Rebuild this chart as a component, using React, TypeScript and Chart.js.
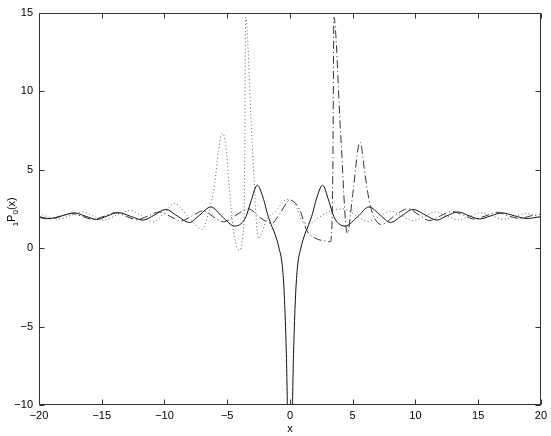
import React, { useEffect, useRef } from "react";
import { Chart, registerables } from "chart.js";

Chart.register(...registerables);

const xTicks = [-20, -15, -10, -5, 0, 5, 10, 15, 20];
const yTicks = [-10, -5, 0, 5, 10, 15];

const solidX = [
  -20, -19.2, -18.2, -17.2, -16.3, -15.4, -14.6, -13.7, -12.7, -11.7, -10.8, -9.9, -9.0, -8.0, -7.2, -6.3,
  -5.4, -4.4, -3.9, -3.5, -3.1, -2.6, -2.1, -1.8, -1.5, -1.2, -0.87, -0.6, -0.45, -0.32, -0.25, -0.2, -0.15,
  0,
  0.15, 0.2, 0.25, 0.32, 0.45, 0.6, 0.87, 1.2, 1.5, 1.8, 2.1, 2.6, 3.1, 3.5, 3.9, 4.4, 5.4,
  6.3, 7.2, 8.0, 8.9, 9.8, 10.8, 11.7, 12.5, 13.4, 14.3, 15.1, 16.0, 16.9, 17.9, 18.9, 20,
];
const solidY = [
  2.0, 1.88, 2.05, 2.24, 2.03, 1.82, 2.03, 2.26, 2.02, 1.78, 2.1, 2.46, 2.05, 1.63, 2.1, 2.62,
  2.0, 1.4, 1.55, 2.0, 3.0, 4.0, 3.1, 2.2, 1.5, 0.9, 0.0, -1.2, -3.0, -5.8, -8.0, -10.5, -14,
  null,
  -14, -10.5, -8.0, -5.8, -3.0, -1.2, 0.0, 0.9, 1.5, 2.2, 3.1, 4.0, 3.0, 2.0, 1.55, 1.4, 2.0,
  2.62, 2.1, 1.63, 2.05, 2.46, 2.1, 1.78, 2.05, 2.3, 2.05, 1.85, 2.05, 2.24, 2.05, 1.88, 2.0,
];

const dottedX = [
  -20, -19.5, -18.5, -17.5, -16.5, -15.7, -14.9, -13.8, -12.7, -11.8, -10.9, -10.0, -9.2, -8.1, -7.0,
  -6.5, -6.0, -5.7, -5.4, -5.1, -4.85, -4.6, -4.35, -4.04, -3.75, -3.62, -3.53, -3.05, -2.5,
  -1.86, -1.06, -0.55, -0.25, 0.4, 0.93, 1.55, 2.4, 3.4, 4.3, 5.3, 6.2, 7.1, 8.0, 8.9, 9.8,
  10.7, 11.6, 12.5, 13.4, 14.3, 15.2, 16.1, 17.0, 17.9, 18.8, 20,
];
const dottedY = [
  2.2, 2.05, 1.85, 2.07, 2.3, 2.05, 1.78, 2.1, 2.4, 2.05, 1.67, 2.25, 2.84, 2.0, 1.2,
  2.2, 4.1, 6.2, 7.3, 6.5, 4.0, 1.8, 0.4, -0.13, 0.8, 4.0, 14.7, 7.3, 0.6,
  1.78, 2.41, 2.94, 3.1, 2.84, 1.78, 1.55, 2.0, 2.4, 2.5, 2.05, 1.7, 2.0, 2.35, 2.05, 1.75,
  2.0, 2.3, 2.05, 1.8, 2.0, 2.25, 2.05, 1.83, 2.0, 2.2, 1.95,
];

const dashDotX = [
  -20, -19.2, -18.3, -17.4, -16.5, -15.7, -14.8, -13.9, -13.0, -12.2, -11.3, -10.4, -9.5, -8.7, -7.8,
  -6.9, -6.1, -5.3, -4.4, -3.3, -2.4, -1.46, -0.8, 0, 0.8, 1.33, 2.1, 2.8, 3.2, 3.35, 3.43, 3.5,
  4.04, 4.57, 5.0, 5.58, 6.0, 6.4, 7.3, 8.4, 9.4, 10.3, 11.1, 12.0, 12.9, 13.8, 14.7, 15.6, 16.5,
  17.4, 18.3, 19.2, 20,
];
const dashDotY = [
  1.95, 1.85, 2.0, 2.2, 2.0, 1.82, 2.03, 2.25, 2.0, 1.8, 2.05, 2.3, 2.0, 1.72, 2.05,
  2.37, 1.99, 1.67, 2.05, 2.5, 1.95, 1.57, 2.2, 3.05, 2.4, 1.14, 0.6, 0.45, 0.4, 1.5, 6.0, 14.7,
  7.3, 0.93, 3.4, 6.75, 4.6, 2.7, 1.5, 2.1, 2.5, 2.1, 1.75, 2.05, 2.33, 2.1, 1.85, 2.05, 2.28,
  2.05, 1.88, 2.05, 2.15,
];

const toPoints = (xs: number[], ys: (number | null)[]) => xs.map((x, i) => ({ x, y: ys[i] }));

const FONT = "'Liberation Sans', Arial, Helvetica, sans-serif";
const fmt = (v: number) => (v < 0 ? "\u2212" + Math.abs(v) : String(v));

const framePlugin = {
  id: "frame",
  afterDraw(chart: any) {
    const { ctx, chartArea: a, scales } = chart;
    const xs = scales.x;
    const ys = scales.y;
    ctx.save();
    ctx.strokeStyle = "#333";
    ctx.lineWidth = 1;
    const L = Math.round(a.left) + 0.5;
    const R = Math.round(a.right) - 0.5;
    const T = Math.round(a.top) + 0.5;
    const B = Math.round(a.bottom) - 0.5;
    ctx.strokeRect(L, T, R - L, B - T);
    ctx.beginPath();
    for (const v of xTicks) {
      const p = Math.round(xs.getPixelForValue(v)) + 0.5;
      ctx.moveTo(p, B);
      ctx.lineTo(p, B - 5);
      ctx.moveTo(p, T);
      ctx.lineTo(p, T + 5);
    }
    for (const v of yTicks) {
      const p = Math.round(ys.getPixelForValue(v)) + 0.5;
      ctx.moveTo(L, p);
      ctx.lineTo(L + 5, p);
      ctx.moveTo(R, p);
      ctx.lineTo(R - 5, p);
    }
    ctx.stroke();

    // x label
    ctx.fillStyle = "#000";
    ctx.font = `11px ${FONT}`;
    ctx.textAlign = "center";
    ctx.textBaseline = "middle";
    ctx.fillText("x", (a.left + a.right) / 2, 429);

    // y label: 1P0(x) with subscripts
    const cy = (a.top + a.bottom) / 2 + 3;
    ctx.translate(15, cy);
    ctx.rotate(-Math.PI / 2);
    ctx.textAlign = "left";
    ctx.textBaseline = "alphabetic";
    const parts = [
      { t: "1", s: 8, dy: 3 },
      { t: "P", s: 11, dy: 0 },
      { t: "0", s: 8, dy: 3 },
      { t: "(x)", s: 11, dy: 0 },
    ];
    let w = 0;
    for (const p of parts) {
      ctx.font = `${p.s}px ${FONT}`;
      w += ctx.measureText(p.t).width;
    }
    let x = -w / 2;
    for (const p of parts) {
      ctx.font = `${p.s}px ${FONT}`;
      ctx.fillText(p.t, x, p.dy);
      x += ctx.measureText(p.t).width;
    }
    ctx.restore();
  },
};

export default function App() {
  const ref = useRef<HTMLCanvasElement | null>(null);
  useEffect(() => {
    if (!ref.current) return;
    const chart = new Chart(ref.current, {
      type: "line",
      data: {
        datasets: [
          {
            data: toPoints(dottedX, dottedY) as any,
            borderColor: "#666",
            borderWidth: 1,
            borderDash: [1, 2.5],
            pointRadius: 0,
            cubicInterpolationMode: "monotone",
            spanGaps: false,
          },
          {
            data: toPoints(dashDotX, dashDotY) as any,
            borderColor: "#333",
            borderWidth: 1,
            borderDash: [8, 3, 1, 3],
            pointRadius: 0,
            cubicInterpolationMode: "monotone",
          },
          {
            data: toPoints(solidX, solidY) as any,
            borderColor: "#111",
            borderWidth: 1,
            pointRadius: 0,
            cubicInterpolationMode: "monotone",
            spanGaps: false,
          },
        ],
      },
      options: {
        animation: false,
        responsive: false,
        events: [],
        layout: { padding: { top: 11, right: 10, left: 0, bottom: 0 } },
        plugins: { legend: { display: false }, tooltip: { enabled: false } },
        scales: {
          x: {
            type: "linear",
            min: -20,
            max: 20,
            afterFit: (s: any) => {
              s.height = 31;
            },
            afterBuildTicks: (s: any) => {
              s.ticks = xTicks.map((v) => ({ value: v }));
            },
            grid: { display: false, drawTicks: false },
            border: { display: false },
            ticks: {
              autoSkip: false,
              maxRotation: 0,
              padding: 4,
              color: "#000",
              font: { family: FONT, size: 11 },
              callback: (v: any) => fmt(Number(v)),
            },
          },
          y: {
            type: "linear",
            min: -10,
            max: 15,
            afterFit: (s: any) => {
              s.width = 39;
            },
            afterBuildTicks: (s: any) => {
              s.ticks = yTicks.map((v) => ({ value: v }));
            },
            grid: { display: false, drawTicks: false },
            border: { display: false },
            ticks: {
              autoSkip: false,
              padding: 6,
              color: "#000",
              font: { family: FONT, size: 11 },
              callback: (v: any) => fmt(Number(v)),
            },
          },
        },
      },
      plugins: [framePlugin],
    });
    return () => chart.destroy();
  }, []);
  return (
    <div style={{ position: "absolute", left: 0, top: 0, width: 551, height: 436, background: "#fff" }}>
      <canvas ref={ref} width={551} height={436} style={{ display: "block" }} />
    </div>
  );
}
